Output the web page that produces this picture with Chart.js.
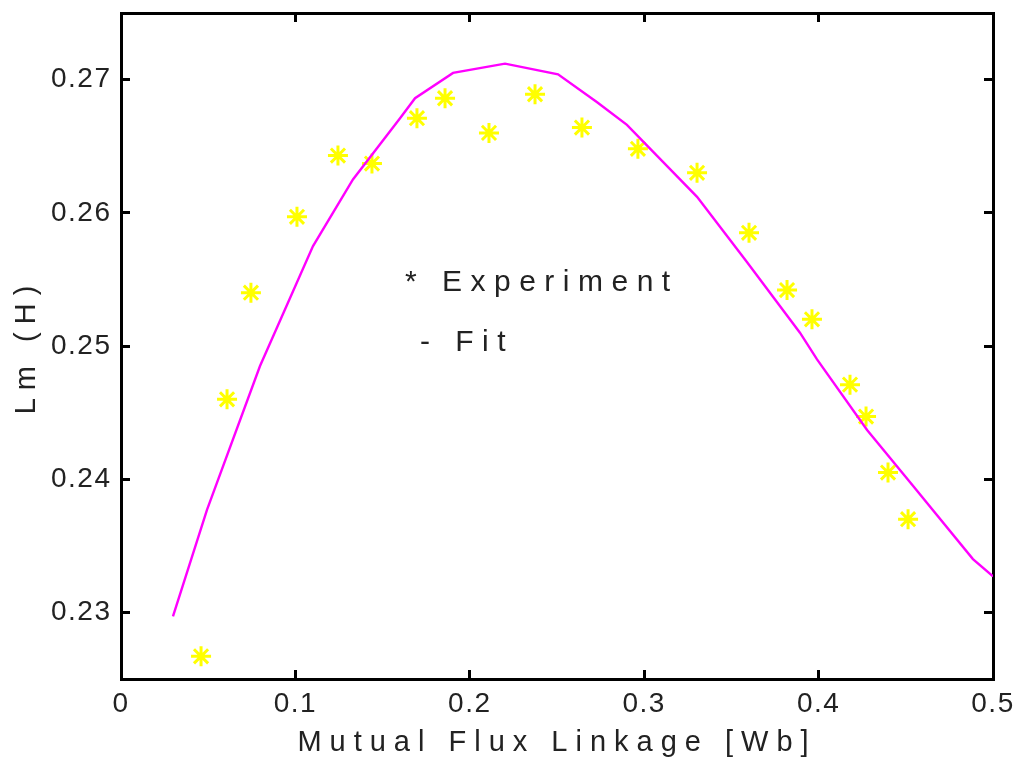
<!DOCTYPE html>
<html>
<head>
<meta charset="utf-8">
<script src="https://cdn.jsdelivr.net/npm/chart.js@4/dist/chart.umd.min.js"></script>
<style>
  body { margin: 0; background: #fff; }
  canvas { display: block; }
</style>
</head>
<body>
<canvas id="lmChart" width="1021" height="760"></canvas>
<script>
// Measured points
var expX = [0.0459, 0.0608, 0.0745, 0.1009, 0.1244, 0.1439, 0.1697, 0.1858, 0.2110, 0.2374,
            0.2643, 0.2964, 0.3303, 0.3601, 0.3819, 0.3962, 0.4180, 0.4272, 0.4398, 0.4513]
var expY = [0.2267, 0.2460, 0.2540, 0.2597, 0.2643, 0.2637, 0.2671, 0.2686, 0.2660, 0.2689,
            0.2664, 0.2648, 0.2630, 0.2585, 0.2542, 0.2520, 0.2471, 0.2447, 0.2405, 0.2370]

// Fitted curve
var fitX = [0.0298, 0.0493, 0.0797, 0.1101, 0.1330, 0.1600, 0.1686, 0.1904, 0.2202, 0.2506,
            0.2730, 0.2901, 0.3303, 0.3589, 0.3893, 0.3991, 0.4278, 0.4541, 0.4885, 0.5000]
var fitY = [0.2297, 0.2377, 0.2485, 0.2575, 0.2625, 0.2671, 0.2686, 0.2705, 0.2712, 0.2704,
            0.2683, 0.2666, 0.2612, 0.2563, 0.2510, 0.2490, 0.2437, 0.2395, 0.2340, 0.2327]

var xTicks = [0, 0.1, 0.2, 0.3, 0.4, 0.5]
var yTicks = [0.23, 0.24, 0.25, 0.26, 0.27]

// Legend-like notes inside the plot
var noteText = ['* Experiment', '- Fit']
var noteX = [0.1628, 0.1714]
var noteY = [0.2541, 0.2496]

Chart.defaults.font.family = "'Liberation Sans', Arial, sans-serif"
Chart.defaults.color = '#222'

function points(xs, ys){
  return xs.map((x, i) => ({x: x, y: ys[i]}))
}

function setTicks(list){
  return function(axis){
    axis.ticks = list.map((v) => ({value: v}))
  }
}

function fixSize(prop, size){
  return function(axis){
    axis[prop] = size
    axis.paddingTop = 0
    axis.paddingBottom = 0
    axis.paddingLeft = 0
    axis.paddingRight = 0
  }
}

// inward tick marks, black frame
var tickGrid = {
  drawOnChartArea: false,
  drawTicks: true,
  tickLength: -9,
  tickWidth: 3,
  tickColor: '#000'
}
var frame = { display: true, color: '#000', width: 3 }

var spacing = {
  id: 'spacing',
  beforeDraw(chart){
    chart.ctx.letterSpacing = '8px'
  },
  beforeDatasetsDraw(chart){
    chart.ctx.letterSpacing = '1.5px'
  },
  afterDraw(chart){
    var ctx = chart.ctx
    var sx = chart.scales.x, sy = chart.scales.y
    ctx.save()
    ctx.letterSpacing = '8.5px'
    ctx.font = "30px 'Liberation Sans', Arial, sans-serif"
    ctx.fillStyle = '#222'
    ctx.textAlign = 'left'
    ctx.textBaseline = 'alphabetic'
    noteText.forEach((t, i) => {
      ctx.fillText(t, sx.getPixelForValue(noteX[i]), sy.getPixelForValue(noteY[i]))
    })
    ctx.restore()
  }
}

var lmChart = new Chart(document.getElementById('lmChart'), {
  type: 'scatter',
  data: {
    datasets: [
      {
        label: 'Fit',
        data: points(fitX, fitY),
        showLine: true,
        borderColor: '#ff00ff',
        borderWidth: 2.4,
        pointRadius: 0,
        tension: 0
      },
      {
        label: 'Experiment',
        data: points(expX, expY),
        pointStyle: 'star',
        pointRadius: 10,
        pointBorderColor: '#ffff00',
        pointBorderWidth: 3,
        pointBackgroundColor: '#ffff00'
      }
    ]
  },
  options: {
    responsive: false,
    animation: false,
    layout: { padding: 0 },
    plugins: {
      legend: { display: false },
      tooltip: { enabled: false }
    },
    scales: {
      x: {
        type: 'linear',
        position: 'bottom',
        min: 0,
        max: 0.5,
        afterBuildTicks: setTicks(xTicks),
        afterFit: fixSize('height', 81),
        grid: tickGrid,
        border: frame,
        ticks: { z: 1, padding: 17, font: { size: 28 }, color: '#222' },
        title: {
          display: true,
          text: 'Mutual Flux Linkage [Wb]',
          font: { size: 29 },
          color: '#222',
          padding: { top: 0, bottom: 0 }
        }
      },
      y: {
        type: 'linear',
        position: 'left',
        min: 0.225,
        max: 0.275,
        afterBuildTicks: setTicks(yTicks),
        afterFit: fixSize('width', 121),
        grid: tickGrid,
        border: frame,
        ticks: { z: 1, padding: 18.5, font: { size: 28 }, color: '#222' },
        title: {
          display: true,
          text: 'Lm (H)',
          font: { size: 29 },
          color: '#222',
          padding: { top: 10, bottom: 0 }
        }
      },
      x2: {
        type: 'linear',
        position: 'top',
        min: 0,
        max: 0.5,
        afterBuildTicks: setTicks(xTicks),
        afterFit: fixSize('height', 13),
        grid: tickGrid,
        border: frame,
        ticks: { display: false }
      },
      y2: {
        type: 'linear',
        position: 'right',
        min: 0.225,
        max: 0.275,
        afterBuildTicks: setTicks(yTicks),
        afterFit: fixSize('width', 28),
        grid: tickGrid,
        border: frame,
        ticks: { display: false }
      }
    }
  },
  plugins: [spacing]
});
</script>
</body>
</html>
